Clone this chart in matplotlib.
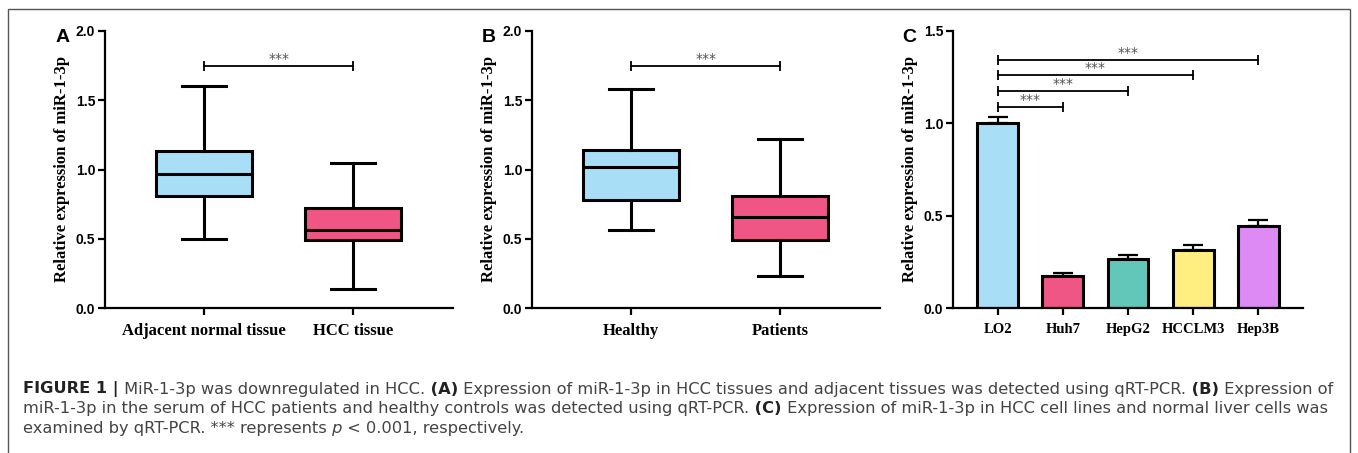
import numpy as np
import matplotlib
matplotlib.use("Agg")
import matplotlib.pyplot as plt
from matplotlib.patches import Rectangle

# panel A - tissues
a_groups = ["Adjacent normal tissue", "HCC tissue"]
a_whislo = [0.50, 0.14]
a_q1 = [0.81, 0.49]
a_med = [0.97, 0.56]
a_q3 = [1.13, 0.72]
a_whishi = [1.60, 1.05]
a_sig_y = 1.745

# panel B - serum
b_groups = ["Healthy", "Patients"]
b_whislo = [0.56, 0.23]
b_q1 = [0.78, 0.49]
b_med = [1.02, 0.66]
b_q3 = [1.14, 0.81]
b_whishi = [1.58, 1.22]
b_sig_y = 1.745

# panel C - cell lines
c_lines = ["LO2", "Huh7", "HepG2", "HCCLM3", "Hep3B"]
c_mean = [1.00, 0.175, 0.265, 0.315, 0.445]
c_err = [0.035, 0.017, 0.023, 0.026, 0.032]
c_sig_to = [1, 2, 3, 4]
c_sig_y = [1.09, 1.175, 1.26, 1.345]

box_colors = ["#a8dff7", "#ef5585"]
bar_colors = ["#a8dff7", "#ef5585", "#62c6b9", "#ffee80", "#de8af5"]

W, H = 1358, 453
fig = plt.figure(figsize=(W / 100, H / 100), dpi=100)

def px_axes(x0, x1, y_top, y_bot):
    return fig.add_axes([x0 / W, 1 - y_bot / H, (x1 - x0) / W, (y_bot - y_top) / H])

def style(ax, ymax, step, labels, xfs):
    for s in ["top", "right"]:
        ax.spines[s].set_visible(False)
    for s in ["left", "bottom"]:
        ax.spines[s].set_linewidth(1.6)
    ax.set_ylim(0, ymax)
    ax.set_yticks(np.arange(0, ymax + 0.01, step))
    ax.set_yticklabels(["%.1f" % v for v in np.arange(0, ymax + 0.01, step)],
                       fontfamily="Liberation Sans", fontweight="bold", fontsize=10)
    ax.set_xticks(range(len(labels)))
    ax.set_xticklabels(labels, fontfamily="Liberation Serif", fontweight="bold", fontsize=xfs)
    ax.tick_params(width=1.6, length=5, pad=2)
    ax.tick_params(axis="x", pad=6)
    ax.set_ylabel("Relative expression of miR-1-3p", fontfamily="Liberation Serif",
                  fontweight="bold", fontsize=12, labelpad=4)

def sig(ax, x0, x1, y):
    ax.plot([x0, x1], [y, y], color="black", lw=1.3, marker="|", ms=7, mew=1.3)
    ax.annotate("***", xy=((x0 + x1) / 2, y), xytext=(0, 0), textcoords="offset points",
                ha="center", va="bottom", fontsize=10, color="#555555",
                fontfamily="DejaVu Sans")

def boxpanel(ax, groups, lo, q1, med, q3, hi, sig_y):
    stats = []
    for i in range(len(groups)):
        stats.append(dict(whislo=lo[i], q1=q1[i], med=med[i], q3=q3[i], whishi=hi[i], label=groups[i]))
    bp = ax.bxp(stats, positions=range(len(groups)), widths=0.645, capwidths=0.295,
                patch_artist=True, showfliers=False,
                boxprops=dict(linewidth=2.2, edgecolor="black"),
                whiskerprops=dict(linewidth=2.2, color="black"),
                capprops=dict(linewidth=2.2, color="black"),
                medianprops=dict(linewidth=2.2, color="black"))
    for patch, c in zip(bp["boxes"], box_colors):
        patch.set_facecolor(c)
    ax.set_xlim(-0.665, 1.67)
    style(ax, 2.0, 0.5, groups, 12)
    sig(ax, 0, 1, sig_y)

axA = px_axes(105, 453, 31, 308)
boxpanel(axA, a_groups, a_whislo, a_q1, a_med, a_q3, a_whishi, a_sig_y)
axB = px_axes(532, 880, 31, 308)
boxpanel(axB, b_groups, b_whislo, b_q1, b_med, b_q3, b_whishi, b_sig_y)

axC = px_axes(953, 1303, 31, 308)
xc = np.arange(len(c_lines))
axC.bar(xc, c_mean, width=0.63, color=bar_colors, edgecolor="black", linewidth=2.2, zorder=2)
axC.errorbar(xc, c_mean, yerr=[np.zeros(len(c_err)), c_err], fmt="none", ecolor="black",
             elinewidth=1.6, capsize=7, capthick=1.6, zorder=1)
axC.set_xlim(-0.69, 4.69)
style(axC, 1.5, 0.5, c_lines, 10.5)
for j, y in zip(c_sig_to, c_sig_y):
    sig(axC, 0, j, y)

# panel letters
for x, letter in [(56, "A"), (482, "B"), (902, "C")]:
    fig.text(x / W, 1 - 37 / H, letter, fontfamily="Liberation Sans", fontweight="bold",
             fontsize=14, va="center", ha="left")

# frame around figure
fig.patches.append(Rectangle((8 / W, -0.05), (1350 - 8) / W, 1.05 - 9 / H, transform=fig.transFigure,
                             fill=False, edgecolor="#555555", linewidth=1.0))

# caption
cap_lines = [
    [("FIGURE 1 |", "bold", "normal"), (" MiR-1-3p was downregulated in HCC.", "normal", "normal"),
     (" (A)", "bold", "normal"),
     (" Expression of miR-1-3p in HCC tissues and adjacent tissues was detected using qRT-PCR.", "normal", "normal"),
     (" (B)", "bold", "normal"), (" Expression of", "normal", "normal")],
    [("miR-1-3p in the serum of HCC patients and healthy controls was detected using qRT-PCR.", "normal", "normal"),
     (" (C)", "bold", "normal"),
     (" Expression of miR-1-3p in HCC cell lines and normal liver cells was", "normal", "normal")],
    [("examined by qRT-PCR. *** represents", "normal", "normal"), (" p", "normal", "italic"),
     (" < 0.001, respectively.", "normal", "normal")],
]
cap_base = [393, 413, 433]
cap_fs = 11.7
for line, yb in zip(cap_lines, cap_base):
    prev = None
    for txt, wt, st in line:
        col = "#222222" if wt == "bold" else "#444444"
        if prev is None:
            prev = fig.text(23 / W, 1 - yb / H, txt, fontfamily="DejaVu Sans", fontweight=wt,
                            fontstyle=st, fontsize=cap_fs, color=col, va="baseline", ha="left")
        else:
            prev = fig.add_artist(plt.Annotation(txt, xy=(1, 0), xycoords=prev, va="bottom", ha="left",
                                                 fontfamily="DejaVu Sans", fontweight=wt,
                                                 fontstyle=st, fontsize=cap_fs, color=col))

fig.savefig("out.png", dpi=100)
